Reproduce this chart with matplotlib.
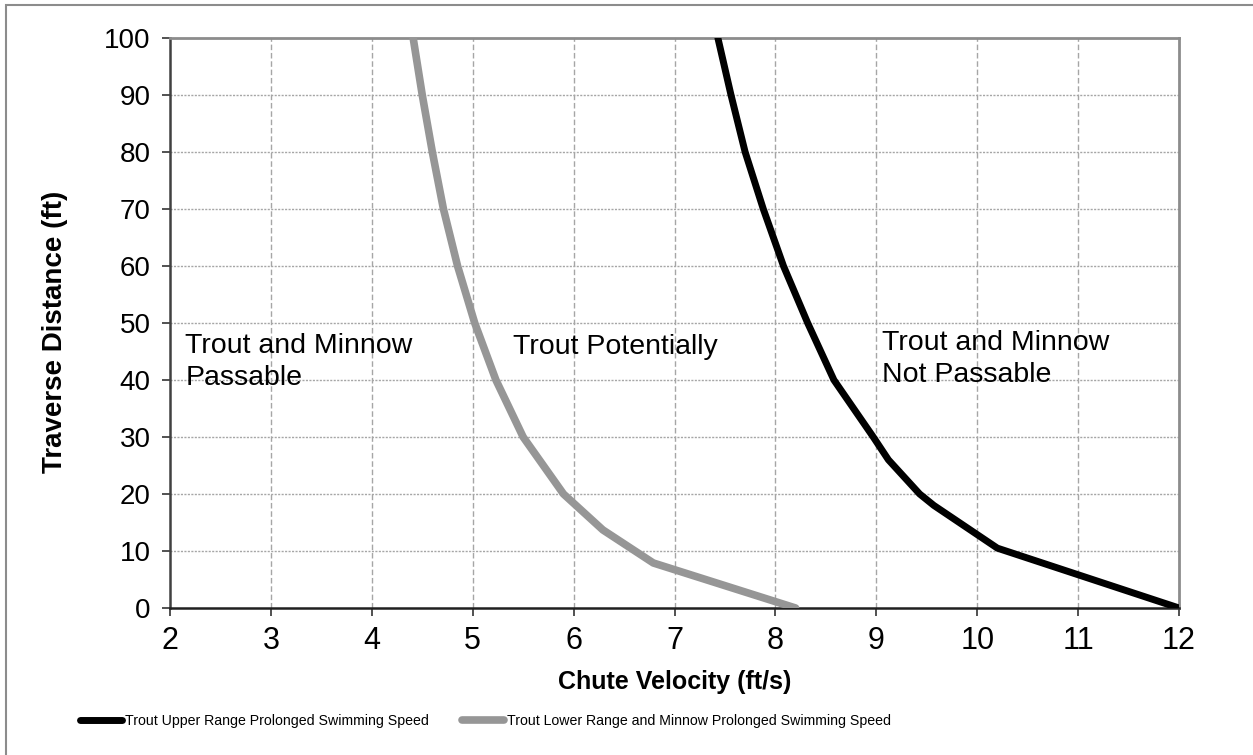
import matplotlib
matplotlib.use('Agg')
import matplotlib.pyplot as plt
from matplotlib.patches import Rectangle

# chute velocity (ft/s) vs traverse distance (ft)
upper_velocity = [7.43, 7.56, 7.70, 7.88, 8.08, 8.32, 8.58, 8.97, 9.12, 9.43, 9.57, 10.2, 12.0]
upper_distance = [100, 90, 80, 70, 60, 50, 40, 30, 26, 20, 18, 10.5, 0]

lower_velocity = [4.41, 4.50, 4.60, 4.71, 4.85, 5.02, 5.23, 5.50, 5.9, 6.29, 6.79, 8.2]
lower_distance = [100, 90, 80, 70, 60, 50, 40, 30, 20, 13.7, 7.9, 0]

upper_label = 'Trout Upper Range Prolonged Swimming Speed'
lower_label = 'Trout Lower Range and Minnow Prolonged Swimming Speed'

zone_labels = ['Trout and Minnow\nPassable', 'Trout Potentially', 'Trout and Minnow\nNot Passable']
zone_x = [2.15, 5.40, 9.06]
zone_y = [43.2, 45.8, 43.7]

x_ticks = list(range(2, 13))
y_ticks = list(range(0, 101, 10))

plt.rcParams['font.family'] = ['Liberation Sans', 'DejaVu Sans']

fig = plt.figure(figsize=(12.53, 7.55), dpi=100)
ax = fig.add_axes([170 / 1253, 1 - 608 / 755, (1179 - 170) / 1253, (608 - 38) / 755])

# gray frame of the chart object
fig.patches.append(Rectangle((6 / 1253, -0.1), 1.2, 0.1 + (755 - 5) / 755, transform=fig.transFigure,
                             fill=False, edgecolor='#8c8c8c', linewidth=1.5))

ax.plot(upper_velocity, upper_distance, color='black', linewidth=5, label=upper_label,
        solid_capstyle='round', solid_joinstyle='round', zorder=4)
ax.plot(lower_velocity, lower_distance, color='#969696', linewidth=5.5, label=lower_label,
        solid_capstyle='round', solid_joinstyle='round', zorder=3)

for text, x, y in zip(zone_labels, zone_x, zone_y):
    ax.text(x, y, text, fontsize=20.5, va='center', ha='left', linespacing=1.32)

ax.set_xlim(2, 12)
ax.set_ylim(0, 100)
ax.set_xticks(x_ticks)
ax.set_yticks(y_ticks)
ax.set_xticklabels([str(v) for v in x_ticks], fontsize=22)
ax.set_yticklabels([str(v) for v in y_ticks], fontsize=20)

for x in x_ticks[1:-1]:
    ax.axvline(x, color='#a6a6a6', linewidth=1, linestyle=(0, (4, 2)), zorder=1)
for y in y_ticks[1:-1]:
    ax.axhline(y, color='#a6a6a6', linewidth=1, linestyle=(0, (1.5, 1)), zorder=1)

ax.tick_params(axis='both', direction='out', length=6, width=1.2, color='#333333')
ax.tick_params(axis='x', pad=7)
ax.tick_params(axis='y', pad=8)

for side in ['top', 'right']:
    ax.spines[side].set_color('#8c8c8c')
    ax.spines[side].set_linewidth(2)
ax.spines['left'].set_color('#404040')
ax.spines['left'].set_linewidth(1.8)
ax.spines['bottom'].set_color('#202020')
ax.spines['bottom'].set_linewidth(1.8)

ax.set_xlabel('Chute Velocity (ft/s)', fontsize=18, fontweight='bold', labelpad=10)
ax.set_ylabel('Traverse Distance (ft)', fontsize=20, fontweight='bold')
ax.yaxis.set_label_coords(-0.101, 0.484)

leg = fig.legend(loc='center left', bbox_to_anchor=(67 / 1253, 1 - 721 / 755), ncol=2,
                 frameon=False, prop={'size': 10.2}, handlelength=3.0,
                 handletextpad=0.2, columnspacing=2.3)

fig.savefig('out.png', dpi=100)
